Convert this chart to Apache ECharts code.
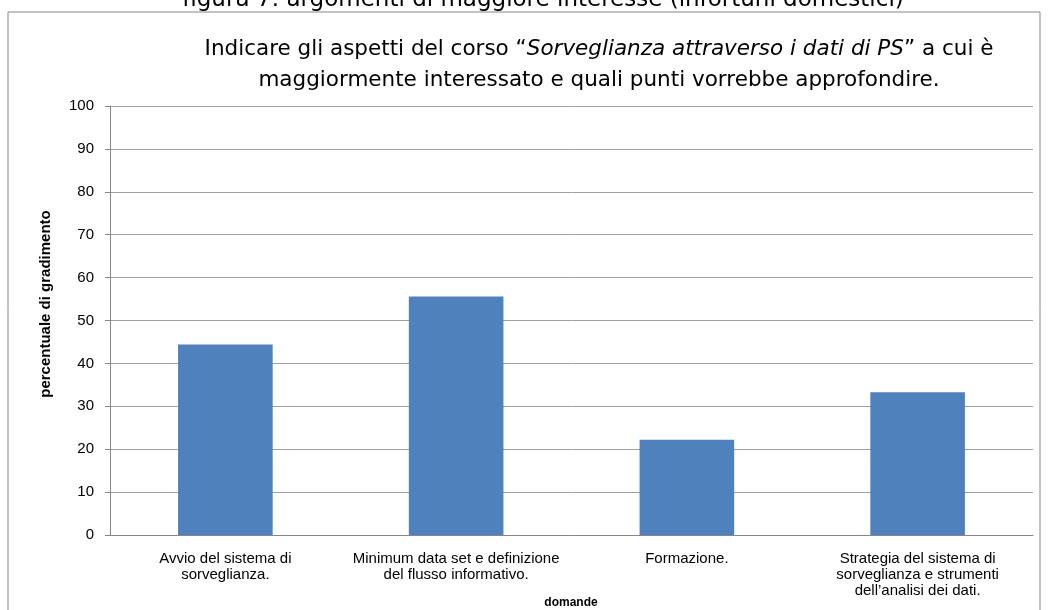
<!DOCTYPE html>
<html>
<head>
<meta charset="utf-8">
<script src="https://cdn.jsdelivr.net/npm/echarts@6/dist/echarts.min.js"></script>
<style>
html, body { margin: 0; padding: 0; background: #fff; }
#chart { width: 1051px; height: 610px; }
</style>
</head>
<body>
<div id="chart"></div>
<script>
var categories = [
    'Avvio del sistema di\nsorveglianza.',
    'Minimum data set e definizione\ndel flusso informativo.',
    'Formazione.',
    'Strategia del sistema di\nsorveglianza e strumenti\ndell\u2019analisi dei dati.'
];
var values = [44.4, 55.6, 22.2, 33.3];

(function () {
    var myChart = echarts.init(document.getElementById('chart'));
    var option = {
        animation: false,
        color: ['#4f81bd'],
        title: [
            {
                text: 'figura 7: argomenti di maggiore interesse (infortuni domestici)',
                left: 538,
                top: -16,
                textAlign: 'center',
                textStyle: { fontFamily: 'DejaVu Sans', fontWeight: 'normal', fontSize: 23, color: '#000' }
            },
            {
                text: '{n|Indicare gli aspetti del corso \u201c}{i|Sorveglianza attraverso i dati di PS}{n|\u201d a cui \u00e8}\n{n|maggiormente interessato e quali punti vorrebbe approfondire.}',
                left: 594,
                top: 29,
                textAlign: 'center',
                textStyle: {
                    lineHeight: 31,
                    rich: {
                        n: { fontFamily: 'DejaVu Sans', fontWeight: 'normal', fontSize: 21.5, color: '#000', lineHeight: 31 },
                        i: { fontFamily: 'DejaVu Sans', fontWeight: 'normal', fontStyle: 'italic', fontSize: 21.5, color: '#000', lineHeight: 31 }
                    }
                }
            }
        ],
        graphic: [
            {
                type: 'rect',
                shape: { x: 8, y: 12, width: 1032, height: 620 },
                style: { fill: 'none', stroke: '#868686', lineWidth: 1 }
            },
            {
                type: 'text',
                x: 46,
                y: 304,
                rotation: Math.PI / 2,
                style: {
                    text: 'percentuale di gradimento',
                    fontFamily: 'Liberation Sans',
                    fontWeight: 'bold',
                    fontSize: 15,
                    fill: '#000',
                    align: 'center',
                    verticalAlign: 'middle'
                }
            },
            {
                type: 'text',
                x: 571,
                y: 603,
                style: {
                    text: 'domande',
                    fontFamily: 'Liberation Sans',
                    fontWeight: 'bold',
                    fontSize: 12,
                    fill: '#000',
                    align: 'center',
                    verticalAlign: 'middle'
                }
            }
        ],
        grid: {
            left: 110,
            right: 18,
            top: 106,
            bottom: 75,
            containLabel: false,
            outerBoundsMode: 'none'
        },
        xAxis: [
            {
                type: 'category',
                data: categories,
                axisLine: { lineStyle: { color: '#868686' } },
                axisTick: { length: 5, lineStyle: { color: '#868686' } },
                axisLabel: { fontFamily: 'Liberation Sans', fontSize: 15, color: '#000', margin: 16, lineHeight: 16, interval: 0 }
            }
        ],
        yAxis: [
            {
                type: 'value',
                min: 0,
                max: 100,
                interval: 10,
                axisLine: { show: true, lineStyle: { color: '#868686' } },
                axisTick: { show: true, length: 5, lineStyle: { color: '#868686' } },
                axisLabel: { fontFamily: 'Liberation Sans', fontSize: 15, color: '#000', margin: 16 },
                splitLine: { lineStyle: { color: '#a0a0a0' } }
            }
        ],
        series: [
            {
                name: 'percentuale',
                type: 'bar',
                barWidth: '41%',
                data: values
            }
        ]
    };
    myChart.setOption(option);
})();
</script>
</body>
</html>
